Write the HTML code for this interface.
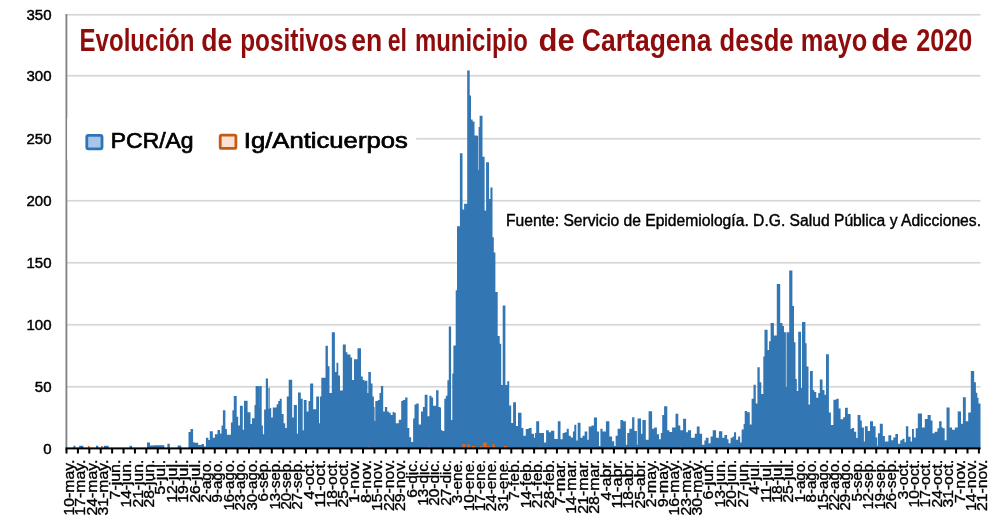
<!DOCTYPE html>
<html><head><meta charset="utf-8"><style>
html,body{margin:0;padding:0;background:#fff;width:1000px;height:523px;overflow:hidden}
svg{display:block}
text{font-family:"Liberation Sans",sans-serif}
</style></head><body>
<svg width="1000" height="523" viewBox="0 0 1000 523">
<rect width="1000" height="523" fill="#fff"/>
<rect x="67" y="13.9" width="913.5" height="1.7" fill="#D6D6D6"/><rect x="67" y="74.9" width="913.5" height="1.7" fill="#D6D6D6"/><rect x="67" y="137.9" width="913.5" height="1.7" fill="#D6D6D6"/><rect x="67" y="199.9" width="913.5" height="1.7" fill="#D6D6D6"/><rect x="67" y="261.9" width="913.5" height="1.7" fill="#D6D6D6"/><rect x="67" y="323.9" width="913.5" height="1.7" fill="#D6D6D6"/><rect x="67" y="385.9" width="913.5" height="1.7" fill="#D6D6D6"/>
<path d="M73.5 445.84H75.4V449H73.5ZM79.2 445.84H83.4V449H79.2ZM96 445.84H98.4V449H96ZM103.8 445.84H108.6V449H103.8ZM129.6 445.84H132V449H129.6ZM147 442.6H150V449H147ZM150 445.6H153.6V449H150ZM153.6 445.36H164.4V449H153.6ZM167.4 443.8H169.8V449H167.4ZM177.6 445.6H180V449H177.6ZM180 445.48H181.2V449H180ZM188.5 431.96H190.5V449H188.5ZM190.5 429.05H193.1V449H190.5ZM193.1 442.13H194.6V449H193.1ZM194.6 442.86H198.2V449H194.6ZM198.2 445.04H201.6V449H198.2ZM201.6 444.02H204V449H201.6ZM204 446.49H205.9V449H204ZM205.9 437.77H208.4V449H205.9ZM208.4 439.95H209.8V449H208.4ZM209.8 431.23H212.8V449H209.8ZM212.8 437.77H214.9V449H212.8ZM214.9 434.14H217.5V449H214.9ZM217.5 430.07H220V449H217.5ZM220 433.41H221.5V449H220ZM221.5 425.42H222.9V449H221.5ZM222.9 410.16H225.4V449H222.9ZM225.4 429.05H226.9V449H225.4ZM226.9 434.87H230.9V449H226.9ZM230.9 422.51H232.4V449H230.9ZM232.4 410.16H233.8V449H232.4ZM233.8 396.06H236.7V449H233.8ZM236.7 416.7H238.2V449H236.7ZM238.2 425.42H239.9V449H238.2ZM239.9 405.8H242.8V449H239.9ZM242.8 429.78H244V449H242.8ZM244 400.71H247.6V449H244ZM247.6 412.34H250.5V449H247.6ZM250.5 423.97H252V449H250.5ZM252 418.15H254.5V449H252ZM254.5 405.07H255.6V449H254.5ZM255.6 385.88H257.8V449H255.6ZM257.8 386.3H259.2V449H257.8ZM259.2 407.98H259.3V449H259.2ZM259.3 385.88H261.7V449H259.3ZM261.7 425.42H262.9V449H261.7ZM262.9 434.14H264.1V449H262.9ZM264.1 409.43H265.8V449H264.1ZM265.8 378.62H268V449H265.8ZM268 408.7H268.4V449H268ZM268.4 387.7H269.7V449H268.4ZM269.7 408.7H270V449H269.7ZM270 408.09H271.2V449H270ZM271.2 417.41H272.8V449H271.2ZM272.8 407.62H276.6V449H272.8ZM276.6 404.13H278.2V449H276.6ZM278.2 401.1H279.8V449H278.2ZM279.8 398.76H281.7V449H279.8ZM281.7 413.92H283.6V449H281.7ZM283.6 423.24H285.2V449H283.6ZM285.2 427.9H286.8V449H285.2ZM286.8 396.43H288.7V449H286.8ZM288.7 379.65H292.2V449H288.7ZM292.2 417.41H293.8V449H292.2ZM293.8 405.06H296.9V449H293.8ZM296.9 433.73H298V449H296.9ZM298 392.47H300.8V449H298ZM300.8 398.76H302.7V449H300.8ZM302.7 430.23H303.8V449H302.7ZM303.8 399.93H306.6V449H303.8ZM306.6 411.59H308.5V449H306.6ZM308.5 401.1H310.1V449H308.5ZM310.1 383.61H313.2V449H310.1ZM313.2 409.25H316.2V449H313.2ZM316.2 396.43H319V449H316.2ZM319 423.24H319.9V449H319ZM319.9 396.43H321.3V449H319.9ZM321.3 377.79H325.5V449H321.3ZM325.5 345.85H327.9V449H325.5ZM327.9 366.13H329.5V449H327.9ZM329.5 392.94H331.8V449H329.5ZM331.8 332.33H334.9V449H331.8ZM334.9 371.96H336.5V449H334.9ZM336.5 362.63H338.3V449H336.5ZM338.3 375.45H340V449H338.3ZM340 390.61H342.8V449H340ZM342.8 344.45H345.8V449H342.8ZM345.8 352.14H347.4V449H345.8ZM347.4 354.48H350.5V449H347.4ZM350.5 357.51H352.1V449H350.5ZM352.1 380.12H354V449H352.1ZM354 359.14H357.5V449H354ZM357.5 348.18H361V449H357.5ZM361 376.62H362.8V449H361ZM362.8 380.12H364.5V449H362.8ZM364.5 381.28H365V449H364.5ZM365 380.82H367.4V449H365ZM367.4 392.94H368.3V449H367.4ZM368.3 371.96H370.9V449H368.3ZM370.9 383.61H372.5V449H370.9ZM372.5 396.43H373.9V449H372.5ZM373.9 406.92H374.6V449H373.9ZM374.6 420.91H375.3V449H374.6ZM375.3 401.1H377.9V449H375.3ZM377.9 399.93H379.5V449H377.9ZM379.5 392.94H380.9V449H379.5ZM380.9 385.94H383.2V449H380.9ZM383.2 411.59H384.9V449H383.2ZM384.9 406.92H387.2V449H384.9ZM387.2 411.59H388.8V449H387.2ZM388.8 412.75H390.7V449H388.8ZM390.7 415.08H392.6V449H390.7ZM392.6 412.05H394.2V449H392.6ZM394.2 412.75H395.8V449H394.2ZM395.8 423.24H398.8V449H395.8ZM398.8 419.74H401.2V449H398.8ZM401.2 401.1H402.8V449H401.2ZM402.8 399.93H405.1V449H402.8ZM405.1 397.6H407.5V449H405.1ZM407.5 427.9H409.3V449H407.5ZM409.3 437.23H411.2V449H409.3ZM411.2 441.89H413.1V449H411.2ZM413.1 418.58H414.5V449H413.1ZM414.5 404.59H416.3V449H414.5ZM416.3 403.43H418.7V449H416.3ZM418.7 424.41H421V449H418.7ZM421 411.59H422.9V449H421ZM422.9 406.92H424.7V449H422.9ZM424.7 394.8H427.5V449H424.7ZM427.5 416.25H429.4V449H427.5ZM429.4 395.73H431.5V449H429.4ZM431.5 397.6H433.1V449H431.5ZM433.1 405.76H436.1V449H433.1ZM436.1 390.14H438.5V449H436.1ZM438.5 406.92H440V449H438.5ZM440 407.5H441V449H440ZM441 430H442.3V449H441ZM442.3 431H444.3V449H442.3ZM444.3 398.7H445.8V449H444.3ZM445.8 395.8H447.4V449H445.8ZM447.4 380.2H448.8V449H447.4ZM448.8 326.5H451.1V449H448.8ZM451.1 420H452.3V449H451.1ZM452.3 373.4H453.4V449H452.3ZM453.4 345.6H455.7V449H453.4ZM455.7 290.2H457V449H455.7ZM457 226.2H459.9V449H457ZM459.9 153.3H462.5V449H459.9ZM462.5 209.5H464.1V449H462.5ZM464.1 203.8H467.2V449H464.1ZM467.2 70.4H469.7V449H467.2ZM469.7 95.6H471V449H469.7ZM471 119.5H472.6V449H471ZM472.6 121.4H474.5V449H472.6ZM474.5 135.4H476.8V449H474.5ZM476.8 135.7H478.1V449H476.8ZM478.1 170H478.6V449H478.1ZM478.6 127.1H479.6V449H478.6ZM479.6 115.7H482.5V449H479.6ZM482.5 156.8H484.6V449H482.5ZM484.6 210.5H486.1V449H484.6ZM486.1 162.3H489V449H486.1ZM489 199H490.4V449H489ZM490.4 187.5H492.5V449H490.4ZM492.5 237.3H493.8V449H492.5ZM493.8 252.6H495.4V449H493.8ZM495.4 292H497.7V449H495.4ZM497.7 336H499.7V449H497.7ZM499.7 343.7H501.2V449H499.7ZM501.2 385H502.7V449H501.2ZM502.7 305.4H505.4V449H502.7ZM505.4 385H507.3V449H505.4ZM507.3 381.2H509.2V449H507.3ZM509.2 405.6H511.2V449H509.2ZM511.2 423H513.1V449H511.2ZM513.1 402.2H516V449H513.1ZM516 426H518V449H516ZM518 412.8H521.5V449H518ZM521.5 428H523.4V449H521.5ZM523.4 435.8H525.8V449H523.4ZM525.8 429H528.7V449H525.8ZM528.7 428H531.6V449H528.7ZM531.6 433.8H534V449H531.6ZM534 437.7H535V449H534ZM535 432.98H536.2V449H535ZM536.2 421.28H539.2V449H536.2ZM539.2 432.98H544V449H539.2ZM544 442.61H546.1V449H544ZM546.1 430.23H548.8V449H546.1ZM548.8 432.29H550.9V449H548.8ZM550.9 430.64H554.3V449H550.9ZM554.3 438.9H557.8V449H554.3ZM557.8 421.28H560.5V449H557.8ZM560.5 439.17H562.6V449H560.5ZM562.6 432.98H564.6V449H562.6ZM564.6 432.29H566.7V449H564.6ZM566.7 428.85H568.8V449H566.7ZM568.8 435.73H570.8V449H568.8ZM570.8 437.52H572.9V449H570.8ZM572.9 431.6H574.3V449H572.9ZM574.3 424.72H576.3V449H574.3ZM576.3 440.55H577.7V449H576.3ZM577.7 422.66H580.5V449H577.7ZM580.5 437.8H582.5V449H580.5ZM582.5 435.73H584.6V449H582.5ZM584.6 431.6H587.3V449H584.6ZM587.3 439.86H588.7V449H587.3ZM588.7 426.51H591.5V449H588.7ZM591.5 425.41H593.9V449H591.5ZM593.9 417.43H597V449H593.9ZM597 431.6H599V449H597ZM599 446.05H600.4V449H599ZM600.4 428.85H602.5V449H600.4ZM602.5 431.6H605.9V449H602.5ZM605.9 421.28H609.4V449H605.9ZM609.4 436.42H612.1V449H609.4ZM612.1 441.24H614.2V449H612.1ZM614.2 446.05H615.6V449H614.2ZM615.6 435.73H617.6V449H615.6ZM617.6 428.85H620.4V449H617.6ZM620.4 419.91H623.1V449H620.4ZM623.1 421.28H625.9V449H623.1ZM625.9 444.68H627.2V449H625.9ZM627.2 432.98H629.3V449H627.2ZM629.3 428.85H632.1V449H629.3ZM632.1 417.15H634.4V449H632.1ZM634.4 430.92H636.9V449H634.4ZM636.9 444.68H637.6V449H636.9ZM637.6 418.53H641V449H637.6ZM641 433.67H642.4V449H641ZM642.4 419.91H645.8V449H642.4ZM645.8 439.86H648.6V449H645.8ZM648.6 411.37H652.1V449H648.6ZM652.1 428.85H654.2V449H652.1ZM654.2 427.47H656.9V449H654.2ZM656.9 434.36H659V449H656.9ZM659 439.17H660.8V449H659ZM660.8 432.98H662.2V449H660.8ZM662.2 415.09H664.1V449H662.2ZM664.1 406.15H667.3V449H664.1ZM667.3 430.23H669.3V449H667.3ZM669.3 432.02H672.1V449H669.3ZM672.1 427.47H675.5V449H672.1ZM675.5 413.71H678.3V449H675.5ZM678.3 425.41H680.3V449H678.3ZM680.3 430.23H683.1V449H680.3ZM683.1 418.81H686.1V449H683.1ZM686.1 432.29H687.9V449H686.1ZM687.9 430.23H691.1V449H687.9ZM691.1 437.8H694.8V449H691.1ZM694.8 433.67H696.8V449H694.8ZM696.8 426.51H699.6V449H696.8ZM699.6 433.67H702.1V449H699.6ZM702.1 444.68H704.4V449H702.1ZM704.4 440.55H705.8V449H704.4ZM705.8 437.8H708.5V449H705.8ZM708.5 443.3H710.6V449H708.5ZM710.6 436.42H712.7V449H710.6ZM712.7 430.23H716.1V449H712.7ZM716.1 437.8H718.9V449H716.1ZM718.9 431.19H722.3V449H718.9ZM722.3 437.8H724.4V449H722.3ZM724.4 435.04H727.1V449H724.4ZM727.1 439.17H728.5V449H727.1ZM728.5 443.3H730.6V449H728.5ZM730.6 437.8H732.6V449H730.6ZM732.6 436.42H734V449H732.6ZM734 432.29H736.1V449H734ZM736.1 439.86H738.1V449H736.1ZM738.1 436.42H740.2V449H738.1ZM740.2 442.61H741.6V449H740.2ZM741.6 429.54H743.6V449H741.6ZM743.6 424.03H744.7V449H743.6ZM744.7 410.96H747.1V449H744.7ZM747.1 412.34H749.8V449H747.1ZM749.8 424.5H751.6V449H749.8ZM751.6 398.7H753.5V449H751.6ZM753.5 384.7H755.8V449H753.5ZM755.8 403.6H757.4V449H755.8ZM757.4 367.2H759.7V449H757.4ZM759.7 382.2H761.3V449H759.7ZM761.3 393.9H763.3V449H761.3ZM763.3 356.6H764.5V449H763.3ZM764.5 329.8H767.6V449H764.5ZM767.6 349.9H769.1V449H767.6ZM769.1 341.3H770.6V449H769.1ZM770.6 323.1H773.9V449H770.6ZM773.9 335.5H776.8V449H773.9ZM776.8 283.9H780.2V449H776.8ZM780.2 323.1H782.5V449H780.2ZM782.5 326H784V449H782.5ZM784 332.3H785.9V449H784ZM785.9 387H786.5V449H785.9ZM786.5 332.3H789.2V449H786.5ZM789.2 270.5H792.4V449H789.2ZM792.4 305.9H794V449H792.4ZM794 342.2H795.5V449H794ZM795.5 379H796.8V449H795.5ZM796.8 391H798.2V449H796.8ZM798.2 331.7H801V449H798.2ZM801 388H802V449H801ZM802 322.1H805.4V449H802ZM805.4 343.2H806.6V449H805.4ZM806.6 366.6H808.5V449H806.6ZM808.5 404.6H810V449H808.5ZM810 371H812.8V449H810ZM812.8 390H814.3V449H812.8ZM814.3 392H816.3V449H814.3ZM816.3 397.8H818.2V449H816.3ZM818.2 393H819.8V449H818.2ZM819.8 379.6H822.5V449H819.8ZM822.5 390H824.5V449H822.5ZM824.5 394.8H826V449H824.5ZM826 354.3H828.9V449H826ZM828.9 412.4H830.9V449H828.9ZM830.9 425H833.4V449H830.9ZM833.4 399.7H836.2V449H833.4ZM836.2 398.7H838.7V449H836.2ZM838.7 408.5H840.6V449H838.7ZM840.6 419.2H843.2V449H840.6ZM843.2 417.3H845V449H843.2ZM845 407.72H847.8V449H845ZM847.8 413.88H850.6V449H847.8ZM850.6 429H851.8V449H850.6ZM851.8 427.88H854.1V449H851.8ZM854.1 431.8H856.2V449H854.1ZM856.2 438.1H857.6V449H856.2ZM857.6 415H860.4V449H857.6ZM860.4 420.6H861.8V449H860.4ZM861.8 427.6H863.9V449H861.8ZM863.9 441.6H864.9V449H863.9ZM864.9 426.2H867.7V449H864.9ZM867.7 431.1H870V449H867.7ZM870 421.3H873V449H870ZM873 426.2H875.6V449H873ZM875.6 437.4H877.2V449H875.6ZM877.2 445.8H877.9V449H877.2ZM877.9 433.2H879.8V449H877.9ZM879.8 423.68H882.8V449H879.8ZM882.8 436H884.9V449H882.8ZM884.9 441.6H888.4V449H884.9ZM888.4 435.3H891.2V449H888.4ZM891.2 440.2H893.3V449H891.2ZM893.3 437.4H895.4V449H893.3ZM895.4 433.9H898V449H895.4ZM898 443.7H900.3V449H898ZM900.3 440.2H902.4V449H900.3ZM902.4 438.8H904.5V449H902.4ZM904.5 442.3H905.9V449H904.5ZM905.9 426.2H908.3V449H905.9ZM908.3 436.7H910.6V449H908.3ZM910.6 441.6H912V449H910.6ZM912 429H913.9V449H912ZM913.9 437.4H915.7V449H913.9ZM915.7 428.3H917.8V449H915.7ZM917.8 413.6H922V449H917.8ZM922 427.6H924.8V449H922ZM924.8 418.92H927.6V449H924.8ZM927.6 415H930.7V449H927.6ZM930.7 420.6H932.5V449H930.7ZM932.5 433.2H934.6V449H932.5ZM934.6 431.8H937.4V449H934.6ZM937.4 428.3H939.1V449H937.4ZM939.1 421.3H941.6V449H939.1ZM941.6 427.6H943V449H941.6ZM943 428.3H944.7V449H943ZM944.7 440.2H946.5V449H944.7ZM946.5 407.3H946.7V449H946.5ZM946.7 407.61H949.6V449H946.7ZM949.6 427.6H952.1V449H949.6ZM952.1 429.7H954.9V449H952.1ZM954.9 427.6H957.7V449H954.9ZM957.7 411.08H958.2V449H957.7ZM958.2 411.62H960.8V449H958.2ZM960.8 411.08H961V449H960.8ZM961 423.68H962.9V449H961ZM962.9 397.08H963.1V449H962.9ZM963.1 397.28H965.8V449H963.1ZM965.8 421.3H968.2V449H965.8ZM968.2 412.48H968.5V449H968.2ZM968.5 412.54H970.8V449H968.5ZM970.8 370.9H974.2V449H970.8ZM974.2 382.37H975.9V449H974.2ZM975.9 392.69H977.3V449H975.9ZM977.3 397.86H978.5V449H977.3ZM978.5 403.59H980.5V449H978.5Z" fill="#3376B4"/>
<path d="M458.5 447H460.5V449H458.5ZM462.4 444H465.3V449H462.4ZM467.3 444.5H470.2V449H467.3ZM472 446H475V449H472ZM480 446H482V449H480ZM482.9 442.6H486.8V449H482.9ZM487.5 446H489.5V449H487.5ZM492.2 444.5H495V449H492.2ZM504 446H507V449H504ZM88 446H89.6V449H88ZM101 446H102.6V449H101ZM368.5 446.5H370V449H368.5ZM428.5 446.5H430V449H428.5ZM538.5 446.5H540V449H538.5ZM680.5 446.5H682V449H680.5ZM248.5 446.5H250V449H248.5Z" fill="#E0661B"/>
<rect x="65.5" y="14" width="1.8" height="436" fill="#808080"/>
<rect x="65.5" y="447.4" width="915" height="2" fill="#000"/>
<rect x="65.5" y="449" width="2" height="4.5" fill="#000"/><rect x="76.91" y="449" width="2" height="4.5" fill="#000"/><rect x="88.31" y="449" width="2" height="4.5" fill="#000"/><rect x="99.72" y="449" width="2" height="4.5" fill="#000"/><rect x="111.12" y="449" width="2" height="4.5" fill="#000"/><rect x="122.53" y="449" width="2" height="4.5" fill="#000"/><rect x="133.93" y="449" width="2" height="4.5" fill="#000"/><rect x="145.33" y="449" width="2" height="4.5" fill="#000"/><rect x="156.74" y="449" width="2" height="4.5" fill="#000"/><rect x="168.14" y="449" width="2" height="4.5" fill="#000"/><rect x="179.55" y="449" width="2" height="4.5" fill="#000"/><rect x="190.95" y="449" width="2" height="4.5" fill="#000"/><rect x="202.36" y="449" width="2" height="4.5" fill="#000"/><rect x="213.76" y="449" width="2" height="4.5" fill="#000"/><rect x="225.17" y="449" width="2" height="4.5" fill="#000"/><rect x="236.57" y="449" width="2" height="4.5" fill="#000"/><rect x="247.98" y="449" width="2" height="4.5" fill="#000"/><rect x="259.38" y="449" width="2" height="4.5" fill="#000"/><rect x="270.79" y="449" width="2" height="4.5" fill="#000"/><rect x="282.19" y="449" width="2" height="4.5" fill="#000"/><rect x="293.6" y="449" width="2" height="4.5" fill="#000"/><rect x="305" y="449" width="2" height="4.5" fill="#000"/><rect x="316.41" y="449" width="2" height="4.5" fill="#000"/><rect x="327.81" y="449" width="2" height="4.5" fill="#000"/><rect x="339.22" y="449" width="2" height="4.5" fill="#000"/><rect x="350.62" y="449" width="2" height="4.5" fill="#000"/><rect x="362.03" y="449" width="2" height="4.5" fill="#000"/><rect x="373.44" y="449" width="2" height="4.5" fill="#000"/><rect x="384.84" y="449" width="2" height="4.5" fill="#000"/><rect x="396.25" y="449" width="2" height="4.5" fill="#000"/><rect x="407.65" y="449" width="2" height="4.5" fill="#000"/><rect x="419.06" y="449" width="2" height="4.5" fill="#000"/><rect x="430.46" y="449" width="2" height="4.5" fill="#000"/><rect x="441.86" y="449" width="2" height="4.5" fill="#000"/><rect x="453.27" y="449" width="2" height="4.5" fill="#000"/><rect x="464.67" y="449" width="2" height="4.5" fill="#000"/><rect x="476.08" y="449" width="2" height="4.5" fill="#000"/><rect x="487.48" y="449" width="2" height="4.5" fill="#000"/><rect x="498.89" y="449" width="2" height="4.5" fill="#000"/><rect x="510.29" y="449" width="2" height="4.5" fill="#000"/><rect x="521.7" y="449" width="2" height="4.5" fill="#000"/><rect x="533.11" y="449" width="2" height="4.5" fill="#000"/><rect x="544.51" y="449" width="2" height="4.5" fill="#000"/><rect x="555.91" y="449" width="2" height="4.5" fill="#000"/><rect x="567.32" y="449" width="2" height="4.5" fill="#000"/><rect x="578.73" y="449" width="2" height="4.5" fill="#000"/><rect x="590.13" y="449" width="2" height="4.5" fill="#000"/><rect x="601.53" y="449" width="2" height="4.5" fill="#000"/><rect x="612.94" y="449" width="2" height="4.5" fill="#000"/><rect x="624.34" y="449" width="2" height="4.5" fill="#000"/><rect x="635.75" y="449" width="2" height="4.5" fill="#000"/><rect x="647.15" y="449" width="2" height="4.5" fill="#000"/><rect x="658.56" y="449" width="2" height="4.5" fill="#000"/><rect x="669.96" y="449" width="2" height="4.5" fill="#000"/><rect x="681.37" y="449" width="2" height="4.5" fill="#000"/><rect x="692.77" y="449" width="2" height="4.5" fill="#000"/><rect x="704.18" y="449" width="2" height="4.5" fill="#000"/><rect x="715.58" y="449" width="2" height="4.5" fill="#000"/><rect x="726.99" y="449" width="2" height="4.5" fill="#000"/><rect x="738.39" y="449" width="2" height="4.5" fill="#000"/><rect x="749.8" y="449" width="2" height="4.5" fill="#000"/><rect x="761.2" y="449" width="2" height="4.5" fill="#000"/><rect x="772.61" y="449" width="2" height="4.5" fill="#000"/><rect x="784.01" y="449" width="2" height="4.5" fill="#000"/><rect x="795.42" y="449" width="2" height="4.5" fill="#000"/><rect x="806.82" y="449" width="2" height="4.5" fill="#000"/><rect x="818.23" y="449" width="2" height="4.5" fill="#000"/><rect x="829.63" y="449" width="2" height="4.5" fill="#000"/><rect x="841.04" y="449" width="2" height="4.5" fill="#000"/><rect x="852.44" y="449" width="2" height="4.5" fill="#000"/><rect x="863.85" y="449" width="2" height="4.5" fill="#000"/><rect x="875.25" y="449" width="2" height="4.5" fill="#000"/><rect x="886.66" y="449" width="2" height="4.5" fill="#000"/><rect x="898.06" y="449" width="2" height="4.5" fill="#000"/><rect x="909.47" y="449" width="2" height="4.5" fill="#000"/><rect x="920.88" y="449" width="2" height="4.5" fill="#000"/><rect x="932.28" y="449" width="2" height="4.5" fill="#000"/><rect x="943.68" y="449" width="2" height="4.5" fill="#000"/><rect x="955.09" y="449" width="2" height="4.5" fill="#000"/><rect x="966.5" y="449" width="2" height="4.5" fill="#000"/><rect x="977.9" y="449" width="2" height="4.5" fill="#000"/>
<g font-size="15" fill="#000" stroke="#000" stroke-width="0.45"><text x="51.5" y="453.9" text-anchor="end">0</text><text x="51.5" y="391.9" text-anchor="end">50</text><text x="51.5" y="329.9" text-anchor="end">100</text><text x="51.5" y="267.9" text-anchor="end">150</text><text x="51.5" y="205.9" text-anchor="end">200</text><text x="51.5" y="143.9" text-anchor="end">250</text><text x="51.5" y="80.9" text-anchor="end">300</text><text x="51.5" y="19.9" text-anchor="end">350</text></g>
<g font-size="14" fill="#000" stroke="#000" stroke-width="0.35"><text transform="translate(74 459.7) rotate(-90)" text-anchor="end" textLength="55.76" lengthAdjust="spacingAndGlyphs">10-may.</text><text transform="translate(85.42 459.7) rotate(-90)" text-anchor="end" textLength="55.76" lengthAdjust="spacingAndGlyphs">17-may.</text><text transform="translate(96.84 459.7) rotate(-90)" text-anchor="end" textLength="55.76" lengthAdjust="spacingAndGlyphs">24-may.</text><text transform="translate(108.25 459.7) rotate(-90)" text-anchor="end" textLength="55.76" lengthAdjust="spacingAndGlyphs">31-may.</text><text transform="translate(119.67 459.7) rotate(-90)" text-anchor="end" textLength="39.76" lengthAdjust="spacingAndGlyphs">7-jun.</text><text transform="translate(131.09 459.7) rotate(-90)" text-anchor="end" textLength="47.88" lengthAdjust="spacingAndGlyphs">14-jun.</text><text transform="translate(142.51 459.7) rotate(-90)" text-anchor="end" textLength="47.88" lengthAdjust="spacingAndGlyphs">21-jun.</text><text transform="translate(153.93 459.7) rotate(-90)" text-anchor="end" textLength="47.88" lengthAdjust="spacingAndGlyphs">28-jun.</text><text transform="translate(165.34 459.7) rotate(-90)" text-anchor="end" textLength="35.03" lengthAdjust="spacingAndGlyphs">5-jul.</text><text transform="translate(176.76 459.7) rotate(-90)" text-anchor="end" textLength="43.14" lengthAdjust="spacingAndGlyphs">12-jul.</text><text transform="translate(188.18 459.7) rotate(-90)" text-anchor="end" textLength="43.14" lengthAdjust="spacingAndGlyphs">19-jul.</text><text transform="translate(199.6 459.7) rotate(-90)" text-anchor="end" textLength="43.14" lengthAdjust="spacingAndGlyphs">26-jul.</text><text transform="translate(211.02 459.7) rotate(-90)" text-anchor="end" textLength="42.77" lengthAdjust="spacingAndGlyphs">2-ago.</text><text transform="translate(222.43 459.7) rotate(-90)" text-anchor="end" textLength="42.77" lengthAdjust="spacingAndGlyphs">9-ago.</text><text transform="translate(233.85 459.7) rotate(-90)" text-anchor="end" textLength="50.88" lengthAdjust="spacingAndGlyphs">16-ago.</text><text transform="translate(245.27 459.7) rotate(-90)" text-anchor="end" textLength="50.88" lengthAdjust="spacingAndGlyphs">23-ago.</text><text transform="translate(256.69 459.7) rotate(-90)" text-anchor="end" textLength="50.88" lengthAdjust="spacingAndGlyphs">30-ago.</text><text transform="translate(268.11 459.7) rotate(-90)" text-anchor="end" textLength="41.76" lengthAdjust="spacingAndGlyphs">6-sep.</text><text transform="translate(279.52 459.7) rotate(-90)" text-anchor="end" textLength="49.88" lengthAdjust="spacingAndGlyphs">13-sep.</text><text transform="translate(290.94 459.7) rotate(-90)" text-anchor="end" textLength="49.88" lengthAdjust="spacingAndGlyphs">20-sep.</text><text transform="translate(302.36 459.7) rotate(-90)" text-anchor="end" textLength="49.88" lengthAdjust="spacingAndGlyphs">27-sep.</text><text transform="translate(313.78 459.7) rotate(-90)" text-anchor="end" textLength="39.7" lengthAdjust="spacingAndGlyphs">4-oct.</text><text transform="translate(325.2 459.7) rotate(-90)" text-anchor="end" textLength="47.81" lengthAdjust="spacingAndGlyphs">11-oct.</text><text transform="translate(336.61 459.7) rotate(-90)" text-anchor="end" textLength="47.81" lengthAdjust="spacingAndGlyphs">18-oct.</text><text transform="translate(348.03 459.7) rotate(-90)" text-anchor="end" textLength="47.81" lengthAdjust="spacingAndGlyphs">25-oct.</text><text transform="translate(359.45 459.7) rotate(-90)" text-anchor="end" textLength="43.2" lengthAdjust="spacingAndGlyphs">1-nov.</text><text transform="translate(370.87 459.7) rotate(-90)" text-anchor="end" textLength="43.2" lengthAdjust="spacingAndGlyphs">8-nov.</text><text transform="translate(382.29 459.7) rotate(-90)" text-anchor="end" textLength="51.32" lengthAdjust="spacingAndGlyphs">15-nov.</text><text transform="translate(393.7 459.7) rotate(-90)" text-anchor="end" textLength="51.32" lengthAdjust="spacingAndGlyphs">22-nov.</text><text transform="translate(405.12 459.7) rotate(-90)" text-anchor="end" textLength="51.32" lengthAdjust="spacingAndGlyphs">29-nov.</text><text transform="translate(416.54 459.7) rotate(-90)" text-anchor="end" textLength="37.97" lengthAdjust="spacingAndGlyphs">6-dic.</text><text transform="translate(427.96 459.7) rotate(-90)" text-anchor="end" textLength="46.08" lengthAdjust="spacingAndGlyphs">13-dic.</text><text transform="translate(439.38 459.7) rotate(-90)" text-anchor="end" textLength="46.08" lengthAdjust="spacingAndGlyphs">20-dic.</text><text transform="translate(450.79 459.7) rotate(-90)" text-anchor="end" textLength="46.08" lengthAdjust="spacingAndGlyphs">27-dic.</text><text transform="translate(462.21 459.7) rotate(-90)" text-anchor="end" textLength="43.48" lengthAdjust="spacingAndGlyphs">3-ene.</text><text transform="translate(473.63 459.7) rotate(-90)" text-anchor="end" textLength="51.59" lengthAdjust="spacingAndGlyphs">10-ene.</text><text transform="translate(485.05 459.7) rotate(-90)" text-anchor="end" textLength="51.59" lengthAdjust="spacingAndGlyphs">17-ene.</text><text transform="translate(496.47 459.7) rotate(-90)" text-anchor="end" textLength="51.59" lengthAdjust="spacingAndGlyphs">24-ene.</text><text transform="translate(507.88 459.7) rotate(-90)" text-anchor="end" textLength="51.59" lengthAdjust="spacingAndGlyphs">31-ene.</text><text transform="translate(519.3 459.7) rotate(-90)" text-anchor="end" textLength="40.39" lengthAdjust="spacingAndGlyphs">7-feb.</text><text transform="translate(530.72 459.7) rotate(-90)" text-anchor="end" textLength="48.5" lengthAdjust="spacingAndGlyphs">14-feb.</text><text transform="translate(542.14 459.7) rotate(-90)" text-anchor="end" textLength="48.5" lengthAdjust="spacingAndGlyphs">21-feb.</text><text transform="translate(553.56 459.7) rotate(-90)" text-anchor="end" textLength="48.5" lengthAdjust="spacingAndGlyphs">28-feb.</text><text transform="translate(564.97 459.7) rotate(-90)" text-anchor="end" textLength="45.99" lengthAdjust="spacingAndGlyphs">7-mar.</text><text transform="translate(576.39 459.7) rotate(-90)" text-anchor="end" textLength="54.1" lengthAdjust="spacingAndGlyphs">14-mar.</text><text transform="translate(587.81 459.7) rotate(-90)" text-anchor="end" textLength="54.1" lengthAdjust="spacingAndGlyphs">21-mar.</text><text transform="translate(599.23 459.7) rotate(-90)" text-anchor="end" textLength="54.1" lengthAdjust="spacingAndGlyphs">28-mar.</text><text transform="translate(610.65 459.7) rotate(-90)" text-anchor="end" textLength="40.79" lengthAdjust="spacingAndGlyphs">4-abr.</text><text transform="translate(622.06 459.7) rotate(-90)" text-anchor="end" textLength="48.9" lengthAdjust="spacingAndGlyphs">11-abr.</text><text transform="translate(633.48 459.7) rotate(-90)" text-anchor="end" textLength="48.9" lengthAdjust="spacingAndGlyphs">18-abr.</text><text transform="translate(644.9 459.7) rotate(-90)" text-anchor="end" textLength="48.9" lengthAdjust="spacingAndGlyphs">25-abr.</text><text transform="translate(656.32 459.7) rotate(-90)" text-anchor="end" textLength="47.65" lengthAdjust="spacingAndGlyphs">2-may.</text><text transform="translate(667.74 459.7) rotate(-90)" text-anchor="end" textLength="47.65" lengthAdjust="spacingAndGlyphs">9-may.</text><text transform="translate(679.15 459.7) rotate(-90)" text-anchor="end" textLength="55.76" lengthAdjust="spacingAndGlyphs">16-may.</text><text transform="translate(690.57 459.7) rotate(-90)" text-anchor="end" textLength="55.76" lengthAdjust="spacingAndGlyphs">23-may.</text><text transform="translate(701.99 459.7) rotate(-90)" text-anchor="end" textLength="55.76" lengthAdjust="spacingAndGlyphs">30-may.</text><text transform="translate(713.41 459.7) rotate(-90)" text-anchor="end" textLength="39.76" lengthAdjust="spacingAndGlyphs">6-jun.</text><text transform="translate(724.83 459.7) rotate(-90)" text-anchor="end" textLength="47.88" lengthAdjust="spacingAndGlyphs">13-jun.</text><text transform="translate(736.24 459.7) rotate(-90)" text-anchor="end" textLength="47.88" lengthAdjust="spacingAndGlyphs">20-jun.</text><text transform="translate(747.66 459.7) rotate(-90)" text-anchor="end" textLength="47.88" lengthAdjust="spacingAndGlyphs">27-jun.</text><text transform="translate(759.08 459.7) rotate(-90)" text-anchor="end" textLength="35.03" lengthAdjust="spacingAndGlyphs">4-jul.</text><text transform="translate(770.5 459.7) rotate(-90)" text-anchor="end" textLength="43.14" lengthAdjust="spacingAndGlyphs">11-jul.</text><text transform="translate(781.92 459.7) rotate(-90)" text-anchor="end" textLength="43.14" lengthAdjust="spacingAndGlyphs">18-jul.</text><text transform="translate(793.33 459.7) rotate(-90)" text-anchor="end" textLength="43.14" lengthAdjust="spacingAndGlyphs">25-jul.</text><text transform="translate(804.75 459.7) rotate(-90)" text-anchor="end" textLength="42.77" lengthAdjust="spacingAndGlyphs">1-ago.</text><text transform="translate(816.17 459.7) rotate(-90)" text-anchor="end" textLength="42.77" lengthAdjust="spacingAndGlyphs">8-ago.</text><text transform="translate(827.59 459.7) rotate(-90)" text-anchor="end" textLength="50.88" lengthAdjust="spacingAndGlyphs">15-ago.</text><text transform="translate(839.01 459.7) rotate(-90)" text-anchor="end" textLength="50.88" lengthAdjust="spacingAndGlyphs">22-ago.</text><text transform="translate(850.42 459.7) rotate(-90)" text-anchor="end" textLength="50.88" lengthAdjust="spacingAndGlyphs">29-ago.</text><text transform="translate(861.84 459.7) rotate(-90)" text-anchor="end" textLength="41.76" lengthAdjust="spacingAndGlyphs">5-sep.</text><text transform="translate(873.26 459.7) rotate(-90)" text-anchor="end" textLength="49.88" lengthAdjust="spacingAndGlyphs">12-sep.</text><text transform="translate(884.68 459.7) rotate(-90)" text-anchor="end" textLength="49.88" lengthAdjust="spacingAndGlyphs">19-sep.</text><text transform="translate(896.1 459.7) rotate(-90)" text-anchor="end" textLength="49.88" lengthAdjust="spacingAndGlyphs">26-sep.</text><text transform="translate(907.51 459.7) rotate(-90)" text-anchor="end" textLength="39.7" lengthAdjust="spacingAndGlyphs">3-oct.</text><text transform="translate(918.93 459.7) rotate(-90)" text-anchor="end" textLength="47.81" lengthAdjust="spacingAndGlyphs">10-oct.</text><text transform="translate(930.35 459.7) rotate(-90)" text-anchor="end" textLength="47.81" lengthAdjust="spacingAndGlyphs">17-oct.</text><text transform="translate(941.77 459.7) rotate(-90)" text-anchor="end" textLength="47.81" lengthAdjust="spacingAndGlyphs">24-oct.</text><text transform="translate(953.19 459.7) rotate(-90)" text-anchor="end" textLength="47.81" lengthAdjust="spacingAndGlyphs">31-oct.</text><text transform="translate(964.6 459.7) rotate(-90)" text-anchor="end" textLength="43.2" lengthAdjust="spacingAndGlyphs">7-nov.</text><text transform="translate(976.02 459.7) rotate(-90)" text-anchor="end" textLength="51.32" lengthAdjust="spacingAndGlyphs">14-nov.</text><text transform="translate(987.44 459.7) rotate(-90)" text-anchor="end" textLength="51.32" lengthAdjust="spacingAndGlyphs">21-nov.</text></g>
<rect x="67.2" y="118" width="349" height="42" fill="#fff"/>
<rect x="86.8" y="135.4" width="15.2" height="13.4" rx="1.5" fill="#A9C6EA" stroke="#2E75B6" stroke-width="2.8"/>
<text x="110.8" y="148.4" font-size="22" textLength="82.8" lengthAdjust="spacingAndGlyphs" fill="#000" stroke="#000" stroke-width="0.7">PCR/Ag</text>
<rect x="220.2" y="135.2" width="15.7" height="13.2" rx="1.5" fill="#FAE3D6" stroke="#C55A11" stroke-width="2.8"/>
<text x="243.8" y="148.4" font-size="22" textLength="164" lengthAdjust="spacingAndGlyphs" fill="#000" stroke="#000" stroke-width="0.7">Ig/Anticuerpos</text>
<g font-size="32" font-weight="bold" fill="#8E0C0C"><text x="79.5" y="50.5" textLength="115" lengthAdjust="spacingAndGlyphs">Evolución</text><text x="201.2" y="50.5" textLength="31" lengthAdjust="spacingAndGlyphs">de</text><text x="240.2" y="50.5" textLength="107" lengthAdjust="spacingAndGlyphs">positivos</text><text x="351.3" y="50.5" textLength="31" lengthAdjust="spacingAndGlyphs">en</text><text x="387.7" y="50.5" textLength="19.3" lengthAdjust="spacingAndGlyphs">el</text><text x="415" y="50.5" textLength="112.9" lengthAdjust="spacingAndGlyphs">municipio</text><text x="538.5" y="50.5" textLength="36.2" lengthAdjust="spacingAndGlyphs">de</text><text x="581.8" y="50.5" textLength="129.8" lengthAdjust="spacingAndGlyphs">Cartagena</text><text x="719.6" y="50.5" textLength="73.9" lengthAdjust="spacingAndGlyphs">desde</text><text x="800.8" y="50.5" textLength="66.4" lengthAdjust="spacingAndGlyphs">mayo</text><text x="871.2" y="50.5" textLength="37" lengthAdjust="spacingAndGlyphs">de</text><text x="916.3" y="50.5" textLength="56" lengthAdjust="spacingAndGlyphs">2020</text></g>
<text x="506" y="225.9" font-size="16" textLength="475" lengthAdjust="spacingAndGlyphs" fill="#000" stroke="#000" stroke-width="0.4">Fuente: Servicio de Epidemiología. D.G. Salud Pública y Adicciones.</text>
</svg>
</body></html>
